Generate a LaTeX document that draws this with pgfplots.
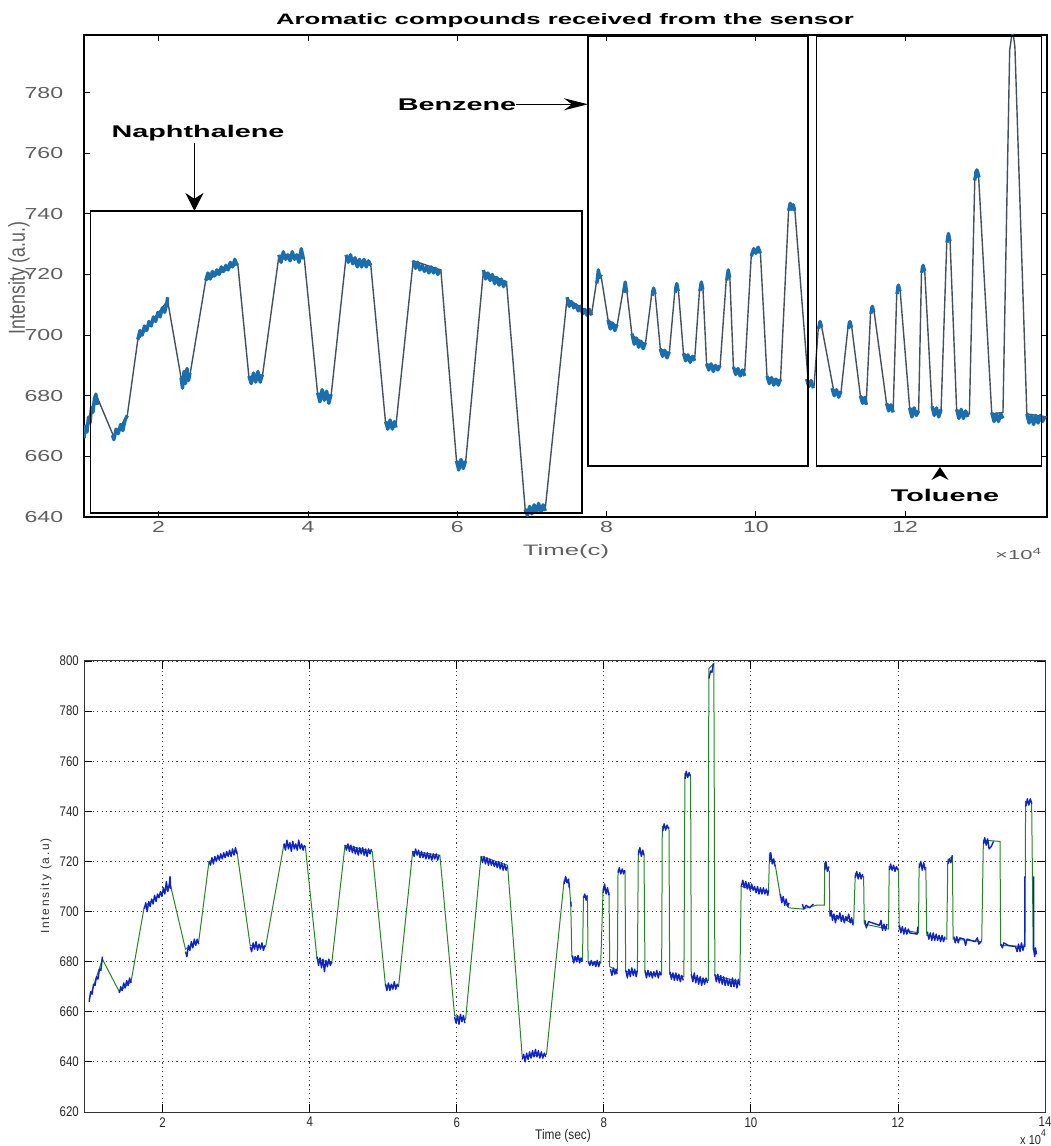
\documentclass[border=0pt]{standalone}
\usepackage{pgfplots}
\pgfplotsset{compat=1.18}
\usetikzlibrary{arrows.meta}
\usepackage{fontspec}
\setmainfont{Liberation Sans}
\definecolor{topblue}{RGB}{25,110,175}
\definecolor{topgray}{RGB}{70,80,90}
\definecolor{botblue}{RGB}{15,35,205}
\definecolor{botgreen}{RGB}{40,130,40}
\definecolor{ticktxt}{RGB}{95,95,95}
\begin{document}
\begin{tikzpicture}
\useasboundingbox (0,0) rectangle (525.5bp,573bp);
% ---------------- top panel ----------------
\begin{axis}[
  at={(42bp,314.5bp)}, anchor=south west,
  width=481.5bp, height=241bp, scale only axis,
  xmin=1, xmax=13.9, ymin=640, ymax=799,
  xtick={2,4,...,12}, ytick={640,660,...,780},
  tick align=inside, major tick length=3bp,
  axis line style={black, line width=0.6bp},
  tick style={black, line width=0.4bp},
  /pgf/number format/assume math mode=true,
  ticklabel style={font=\fontsize{8}{10}\selectfont, text=ticktxt, xscale=1.45, inner sep=0pt},
  xticklabel style={anchor=north, yshift=-2bp},
  yticklabel style={anchor=east, xshift=-7bp},
  unbounded coords=jump,
]
\addplot[color=topgray, line width=0.7bp] coordinates {
(1.00,667) (1.16,680.5) (1.40,666.4) (1.58,673.5) (1.72,698.3) (2.12,711.4) (2.30,686) (2.42,687) (2.63,718) (3.06,723.5) (3.21,686) (3.39,686.5) (3.61,726) (3.95,725.5) (4.13,680.5) (4.31,680) (4.51,725.7) (4.84,723.5) (5.04,671) (5.18,670.5) (5.41,724.5) (5.78,721.5) (5.99,658.5) (6.11,657.5) (6.35,721) (6.66,717.5) (6.91,642.5) (7.18,643) (7.47,712) (7.80,707) (7.88,720) (7.93,719) (8.02,705) (8.14,703) (8.23,716) (8.27,715) (8.34,700) (8.52,697) (8.61,714.5) (8.65,714) (8.72,695.5) (8.84,694) (8.92,716) (8.96,715.5) (9.03,694) (9.18,692) (9.25,716.5) (9.29,716) (9.34,690.5) (9.52,689.5) (9.61,720.5) (9.65,720) (9.70,689) (9.85,687.5) (9.94,727) (10.06,727.5) (10.15,686) (10.33,685) (10.44,742) (10.52,742) (10.70,685) (10.78,683.5) (10.84,703.5) (10.88,703) (11.04,682) (11.14,681) (11.24,704) (11.28,703.5) (11.40,680) (11.48,678.5) (11.54,709) (11.58,708.5) (11.75,677.5) (11.84,676) (11.89,716) (11.93,715.5) (12.06,676) (12.18,674.5) (12.22,722.5) (12.26,722) (12.36,676) (12.48,674.5) (12.56,732.5) (12.60,732) (12.69,675) (12.86,674) (12.935,754) (12.98,754) (13.16,674) (13.31,674.5) (13.40,794) (13.44,801) (13.47,795) (13.63,674) (13.9,673)
};
\addplot[color=topblue, line width=1.7bp, line join=round] coordinates {
(1.00,666) (1.02,670) (1.04,668) (1.06,673) (1.08,671) (1.10,676) (1.12,674.5) (1.14,679) (1.16,680.5) (1.18,677) (nan,nan)
(1.38,667) (1.40,665.5) (1.43,669) (1.46,667.5) (1.49,670.5) (1.52,668.5) (1.55,672) (1.58,673.5) (nan,nan)
(1.72,698.5) (1.75,701.5) (1.78,700) (1.81,703) (1.84,701.5) (1.87,704.5) (1.90,703) (1.93,706) (1.96,704.5) (1.99,707.5) (2.02,706) (2.05,709) (2.08,707.5) (2.11,710.5) (2.12,712.5) (nan,nan)
(2.30,686) (2.32,682.5) (2.34,688) (2.36,684) (2.38,689) (2.40,685) (2.42,687.5) (nan,nan)
(2.63,718) (2.66,720.5) (2.69,718.5) (2.72,721) (2.75,719.5) (2.78,721.5) (2.81,720) (2.84,722.5) (2.87,721) (2.90,723) (2.93,721.5) (2.96,724) (2.99,722.5) (3.02,725) (3.05,723) (nan,nan)
(3.21,686.5) (3.24,684) (3.27,687.5) (3.30,684.5) (3.33,688) (3.36,684.5) (3.39,687) (nan,nan)
(3.61,726.5) (3.64,724) (3.67,727.5) (3.70,725) (3.73,726.5) (3.76,724.5) (3.79,727.5) (3.82,725) (3.85,726.5) (3.88,724) (3.91,728.5) (3.94,725) (nan,nan)
(4.13,681) (4.16,678) (4.19,682) (4.22,678.5) (4.25,681.5) (4.28,677.5) (4.31,680.5) (nan,nan)
(4.51,726.5) (4.54,724) (4.57,726.5) (4.60,723.5) (4.63,725.5) (4.66,722.5) (4.69,725) (4.72,722.5) (4.75,725) (4.78,722.5) (4.81,724.5) (4.84,723) (nan,nan)
(5.04,671.5) (5.07,669) (5.10,672) (5.13,669) (5.16,671.5) (5.18,669.5) (nan,nan)
(5.41,724.5) (5.44,722) (5.47,724) (5.50,721.5) (5.53,723) (5.56,721) (5.59,722.5) (5.62,720.5) (5.65,722.5) (5.68,720.5) (5.71,722) (5.74,720) (5.77,721.5) (nan,nan)
(5.99,658.5) (6.02,655.5) (6.05,659) (6.08,656) (6.11,658.5) (nan,nan)
(6.35,721.5) (6.38,718.5) (6.41,720.5) (6.44,718) (6.47,720) (6.50,717) (6.53,719) (6.56,716.5) (6.59,718.5) (6.62,716) (6.65,718) (nan,nan)
(6.91,642.5) (6.94,640.5) (6.97,643.5) (7.00,641) (7.03,644) (7.06,641.5) (7.09,644.5) (7.12,641.5) (7.15,644) (7.18,642) (nan,nan)
(7.47,712.5) (7.50,709.5) (7.53,711) (7.56,709) (7.59,710) (7.62,708) (7.65,709.5) (7.68,707) (7.71,708.5) (7.74,706.5) (7.77,708.5) (7.80,706.5) (nan,nan)
(7.87,717) (7.89,721.5) (7.91,719) (7.93,720) (nan,nan)
(8.02,705) (8.05,702) (8.08,704) (8.11,701.5) (8.14,703.5) (nan,nan)
(8.23,714) (8.25,717.5) (8.27,714) (nan,nan)
(8.34,700.5) (8.37,697) (8.40,699) (8.43,696) (8.46,698) (8.49,695.5) (8.52,697.5) (nan,nan)
(8.61,713) (8.63,715.5) (8.65,713.5) (nan,nan)
(8.72,695.5) (8.75,693) (8.78,695) (8.81,692.5) (8.84,694.5) (nan,nan)
(8.92,714) (8.94,717) (8.96,714.5) (nan,nan)
(9.03,694) (9.06,691.5) (9.09,693.5) (9.12,691) (9.15,693) (9.18,691.5) (nan,nan)
(9.25,714.5) (9.27,717.5) (9.29,715) (nan,nan)
(9.34,690.5) (9.37,688.5) (9.40,690.5) (9.43,688) (9.46,690) (9.49,688.5) (9.52,690) (nan,nan)
(9.61,718) (9.63,721.5) (9.65,719) (nan,nan)
(9.70,689.5) (9.73,687) (9.76,689) (9.79,686.5) (9.82,688.5) (9.85,686.5) (nan,nan)
(9.94,726) (9.97,728.5) (10.00,727) (10.03,729) (10.06,727) (nan,nan)
(10.15,686.5) (10.18,684) (10.21,686) (10.24,683.5) (10.27,685.5) (10.30,683.5) (10.33,685.5) (nan,nan)
(10.44,741) (10.46,743.5) (10.48,741.5) (10.50,743) (10.52,741) (nan,nan)
(10.68,685.5) (10.71,683) (10.74,685) (10.77,682.5) (nan,nan)
(10.84,702) (10.86,704.5) (10.88,702.5) (nan,nan)
(11.02,682.5) (11.05,680) (11.08,682) (11.11,679.5) (11.14,681.5) (nan,nan)
(11.24,702) (11.26,704.5) (11.28,702.5) (nan,nan)
(11.40,680) (11.43,677.5) (11.46,679.5) (11.48,677) (nan,nan)
(11.54,707) (11.56,709.5) (11.58,707.5) (nan,nan)
(11.75,677.5) (11.78,675) (11.81,677) (11.84,674.5) (nan,nan)
(11.89,713.5) (11.91,716.5) (11.93,714.5) (nan,nan)
(12.06,676) (12.09,673) (12.12,676) (12.15,673.5) (12.18,675) (nan,nan)
(12.22,720.5) (12.24,723) (12.26,721) (nan,nan)
(12.36,676.5) (12.39,673.5) (12.42,676) (12.45,673) (12.48,675.5) (nan,nan)
(12.56,730.5) (12.58,733.5) (12.60,731) (nan,nan)
(12.69,675.5) (12.72,672.5) (12.75,675.5) (12.78,672.5) (12.81,675) (12.84,673) (nan,nan)
(12.93,751) (12.96,754.5) (12.99,752) (nan,nan)
(13.16,674.5) (13.19,671.5) (13.22,674) (13.25,671.5) (13.28,674) (13.31,672.5) (nan,nan)
(13.63,674) (13.66,671) (13.69,673.5) (13.72,670.5) (13.75,673.5) (13.78,671) (13.81,673.5) (13.84,671.5) (13.87,673)
};
\end{axis}
% ---------------- bottom panel ----------------
\begin{axis}[
  at={(42bp,17bp)}, anchor=south west,
  width=480.5bp, height=225.5bp, scale only axis,
  xmin=0.93, xmax=14, ymin=620, ymax=800,
  xtick={2,4,...,14}, ytick={620,640,...,800},
  grid=major, major grid style={black!75, line width=0.4bp, dash pattern=on 0.6bp off 1.6bp},
  tick align=inside, major tick length=4bp,
  axis line style={black!80, line width=0.5bp},
  tick style={black, line width=0.4bp},
  /pgf/number format/assume math mode=true,
  ticklabel style={font=\fontsize{7}{8}\selectfont, text=black!85, xscale=0.82, inner sep=0pt},
  xticklabel style={anchor=north, yshift=-2.5bp},
  yticklabel style={anchor=east, xshift=-3bp},
  unbounded coords=jump,
]
\addplot[color=botgreen, line width=0.5bp] coordinates {
(1.00,665) (1.18,681) (1.41,668) (1.57,672) (1.75,702) (2.11,710) (2.31,685) (2.49,688) (2.63,720) (3.01,724) (3.19,686.5) (3.40,686) (3.65,727) (3.94,726) (4.10,681) (4.30,679.5) (4.48,726.5) (4.85,724) (5.03,670.5) (5.21,670.5) (5.40,724) (5.77,722.5) (5.97,658.5) (6.12,657) (6.33,722) (6.69,718.5) (6.89,642) (7.22,643) (7.46,712.5) (7.53,711) (7.55,703) (7.565,682) (7.71,681) (7.723,706) (7.777,705.5) (7.786,680) (7.958,679.5) (7.99,709) (8.071,707.5) (8.08,678) (8.184,676.5) (8.193,716.5) (8.288,716) (8.297,676) (8.456,676) (8.469,724.5) (8.546,723) (8.56,675.5) (8.786,675) (8.795,734) (8.886,733.5) (8.895,675) (9.089,674) (9.103,755) (9.18,754.5) (9.189,674) (9.42,672.5) (9.428,797) (9.496,799) (9.51,674.5) (9.85,672) (9.868,710) (10.24,708) (10.253,723) (10.334,718) (10.402,706) (10.515,701.5) (10.70,701) (10.90,702.6) (11.00,702.6) (11.004,719) (11.067,716) (11.072,699) (11.397,695.3) (11.42,715.3) (11.533,714) (11.542,695) (11.872,693) (11.881,718) (12.008,717) (12.017,693) (12.279,691.5) (12.288,719) (12.379,717.5) (12.392,690.5) (12.664,689) (12.678,720.6) (12.741,722) (12.75,689) (13.139,688) (13.162,728.5) (13.388,728) (13.397,686.5) (13.727,686) (13.736,744) (13.818,744) (13.84,685) (13.885,683)
};
\addplot[color=botblue, line width=0.7bp, line join=round] coordinates {
(1.00,664) (1.02,668) (1.04,667) (1.06,671) (1.08,670.5) (1.10,674) (1.12,673) (1.14,677) (1.16,676.5) (1.18,682) (nan,nan)
(1.41,667.5) (1.43,670) (1.45,668.5) (1.47,671.5) (1.49,669.5) (1.51,672.5) (1.53,670.5) (1.55,673.5) (1.57,671.5) (nan,nan)
(1.75,701) (1.77,703.5) (1.79,700) (1.81,704) (1.83,702) (1.85,705) (1.87,703) (1.89,706.5) (1.91,704) (1.93,707) (1.95,705.5) (1.97,708) (1.99,706) (2.01,709.5) (2.03,707) (2.05,712) (2.07,708) (2.09,711) (2.10,714) (2.11,709) (nan,nan)
(2.31,684) (2.33,682) (2.35,686.5) (2.37,684.5) (2.39,688) (2.41,685.5) (2.43,689) (2.45,686.5) (2.47,689) (2.49,687) (nan,nan)
(2.63,720) (2.65,718.5) (2.67,721.5) (2.69,719) (2.71,722) (2.73,720) (2.75,722.5) (2.77,720.5) (2.79,723) (2.81,721) (2.83,723.5) (2.85,721.5) (2.87,724) (2.89,722) (2.91,724.5) (2.93,722) (2.95,725) (2.97,722.5) (2.99,725.5) (3.01,723) (nan,nan)
(3.19,686) (3.21,684) (3.23,687.5) (3.25,685) (3.27,688) (3.29,684.5) (3.31,687) (3.33,685) (3.35,687.5) (3.37,684.5) (3.39,686.5) (nan,nan)
(3.65,727) (3.67,724.5) (3.69,728.5) (3.71,725) (3.73,727.5) (3.75,724) (3.77,728) (3.79,725) (3.81,727) (3.83,724.5) (3.85,728.5) (3.87,725) (3.89,727) (3.91,724.5) (3.93,726.5) (nan,nan)
(4.10,682) (4.12,678.5) (4.14,681.5) (4.16,677.5) (4.18,681) (4.20,676) (4.22,680.5) (4.24,678) (4.26,681) (4.28,678.5) (4.30,680) (nan,nan)
(4.48,726.5) (4.50,724.5) (4.52,727) (4.54,724) (4.56,726.5) (4.58,723.5) (4.60,726) (4.62,723) (4.64,725.5) (4.66,722.5) (4.68,725.5) (4.70,723) (4.72,725.5) (4.74,722.5) (4.76,725) (4.78,722) (4.80,725) (4.82,723) (4.84,725) (nan,nan)
(5.03,671) (5.05,668.5) (5.07,671.5) (5.09,668.5) (5.11,671) (5.13,669) (5.15,672) (5.17,669) (5.19,671) (5.21,670) (nan,nan)
(5.40,724) (5.42,722) (5.44,725) (5.46,722.5) (5.48,724.5) (5.50,721.5) (5.52,724) (5.54,721.5) (5.56,723.5) (5.58,721) (5.60,723.5) (5.62,721) (5.64,723) (5.66,720.5) (5.68,723) (5.70,721) (5.72,723) (5.74,720.5) (5.76,722.5) (nan,nan)
(5.97,658) (5.99,655.5) (6.01,658.5) (6.03,655) (6.05,659) (6.07,656) (6.09,658.5) (6.11,655.5) (nan,nan)
(6.33,722) (6.35,719.5) (6.37,722) (6.39,719) (6.41,721.5) (6.43,718.5) (6.45,721) (6.47,718.5) (6.49,720.5) (6.51,718) (6.53,720) (6.55,717.5) (6.57,720) (6.59,717) (6.61,719.5) (6.63,716.5) (6.65,719) (6.67,716.5) (6.69,718) (nan,nan)
(6.89,641) (6.91,643) (6.93,640) (6.95,643.5) (6.97,641) (6.99,644) (7.01,641.5) (7.03,644.5) (7.05,642) (7.07,645) (7.09,642) (7.11,644.5) (7.13,641.5) (7.15,644) (7.17,641.5) (7.19,643.5) (7.21,642) (nan,nan)
(7.46,711) (7.48,714) (7.50,711.5) (7.52,713) (7.53,709.5) (nan,nan)
(7.55,704) (7.555,702) (nan,nan)
(7.57,682.5) (7.59,679.5) (7.61,682) (7.63,680) (7.65,682.5) (7.67,679.5) (7.69,681.5) (7.71,680) (nan,nan)
(7.725,705.5) (7.74,707) (7.76,704.5) (7.775,706.5) (nan,nan)
(7.79,680) (7.81,678.5) (7.83,680.5) (7.85,678.5) (7.87,680) (7.89,678) (7.91,680.5) (7.93,678) (7.95,680) (nan,nan)
(7.99,707.5) (8.01,711) (8.03,707) (8.05,709.5) (8.07,706.5) (nan,nan)
(8.09,677) (8.11,674.5) (8.13,677.5) (8.15,675) (8.17,677) (8.18,675) (nan,nan)
(8.195,715.5) (8.21,717.5) (8.23,715) (8.25,717) (8.27,715) (8.285,716.5) (nan,nan)
(8.30,676.5) (8.32,673.5) (8.34,677) (8.36,674) (8.38,677.5) (8.40,674.5) (8.42,677) (8.44,674) (8.455,676.5) (nan,nan)
(8.47,722.5) (8.49,725.5) (8.51,722) (8.53,724.5) (8.545,722.5) (nan,nan)
(8.56,676.5) (8.58,673.5) (8.60,676.5) (8.62,674) (8.64,676) (8.66,673.5) (8.68,676) (8.70,674) (8.72,676.5) (8.74,673.5) (8.76,676) (8.78,674.5) (nan,nan)
(8.80,732) (8.82,735) (8.84,732.5) (8.86,734.5) (8.88,733) (nan,nan)
(8.90,676) (8.92,673) (8.94,675.5) (8.96,672.5) (8.98,675.5) (9.00,672.5) (9.02,675) (9.04,672) (9.06,674.5) (9.08,672.5) (nan,nan)
(9.105,753) (9.12,756) (9.14,753.5) (9.16,755.5) (9.175,754) (nan,nan)
(9.19,675) (9.21,672) (9.23,675.5) (9.25,671.5) (9.27,674.5) (9.29,671) (9.31,674) (9.33,670.5) (9.35,673.5) (9.37,671) (9.39,673.5) (9.41,671.5) (nan,nan)
(9.43,793) (9.45,796) (9.47,795.5) (9.49,799) (nan,nan)
(9.51,675) (9.53,672) (9.55,675) (9.57,671.5) (9.59,674.5) (9.61,671) (9.63,674) (9.65,670.5) (9.67,673.5) (9.69,670.5) (9.71,673) (9.73,670) (9.75,673.5) (9.77,670) (9.79,673) (9.81,669.5) (9.83,673) (9.85,670.5) (nan,nan)
(9.87,710) (9.89,712.5) (9.91,709.5) (9.93,712) (9.95,709) (9.97,711.5) (9.99,708.5) (10.01,711) (10.03,708.5) (10.05,710) (10.07,707.5) (10.09,710) (10.11,707) (10.13,709.5) (10.15,707) (10.17,709.5) (10.19,707) (10.21,709) (10.23,706.5) (10.24,708.5) (nan,nan)
(10.255,720) (10.27,723.5) (10.29,719) (10.31,721) (10.33,718) (nan,nan)
(10.40,707) (10.42,703.5) (10.44,706) (10.46,702.5) (10.48,705) (10.50,702) (10.52,703.5) (nan,nan)
(10.70,703) (10.72,701) (10.75,702.5) (10.80,701.5) (10.85,703) (nan,nan)
(11.005,716.5) (11.02,720) (11.04,716) (11.06,718) (nan,nan)
(11.075,698) (11.09,700.5) (11.11,696.5) (11.13,699) (11.15,695.5) (11.17,698.5) (11.19,697) (11.21,699.5) (11.23,696) (11.25,698.5) (11.27,695.5) (11.29,698) (11.31,696.5) (11.33,699) (11.35,695.5) (11.37,697.5) (11.39,694.5) (nan,nan)
(11.42,713.5) (11.44,716) (11.46,713) (11.48,715.5) (11.50,713) (11.52,715) (nan,nan)
(11.55,696.5) (11.57,693.5) (11.60,696) (11.70,695) (11.75,694.5) (11.77,696.5) (11.79,692.5) (11.81,695) (11.83,692.5) (11.85,695) (nan,nan)
(11.885,716.5) (11.90,719) (11.92,716.5) (11.94,718.5) (11.96,716) (11.98,718) (12.00,716.5) (nan,nan)
(12.02,694.5) (12.04,691.5) (12.06,694) (12.08,691) (12.10,693.5) (12.12,691) (12.14,693) (12.16,691.5) (12.26,691) (12.27,694) (nan,nan)
(12.29,717.5) (12.31,720) (12.33,716.5) (12.35,719.5) (12.37,716.5) (nan,nan)
(12.40,692) (12.42,689) (12.44,691.5) (12.46,688.5) (12.48,691.5) (12.50,688.5) (12.52,691) (12.54,688.5) (12.56,690.5) (12.58,688) (12.60,690.5) (12.62,688) (12.64,690) (nan,nan)
(12.68,719) (12.70,721) (12.72,719.5) (12.74,722.5) (nan,nan)
(12.76,690) (12.78,687.5) (12.80,690) (12.82,687.5) (12.84,689.5) (12.90,689) (12.92,686.5) (12.94,689) (13.05,688) (13.08,689.5) (13.10,687) (13.13,688) (nan,nan)
(13.165,727) (13.18,729.5) (13.20,726.5) (13.22,729) (13.24,725) (13.27,726) (13.30,728) (nan,nan)
(13.40,687) (13.42,685.5) (13.44,687.5) (13.50,686.5) (13.60,686) (13.62,684) (13.64,687) (13.66,684) (13.68,687.5) (13.70,684.5) (13.72,687) (nan,nan)
(13.725,686) (13.725,714) (nan,nan)
(13.74,742) (13.76,745) (13.78,742.5) (13.80,745) (13.82,743) (nan,nan)
(13.845,714) (13.845,685) (13.86,682) (13.87,685.5) (13.885,683)
};
\end{axis}
% ---------------- annotations (pixel coordinates) ----------------
\begin{scope}[shift={(0bp,573bp)}, x=0.5bp, y=-0.5bp]
  \node[font=\fontsize{7.6}{9}\selectfont\bfseries, xscale=1.7] at (565,21) {Aromatic compounds received from the sensor};
  \node[font=\fontsize{8.9}{10}\selectfont, text=ticktxt, rotate=90, yscale=1.3] at (19,278) {Intensity (a.u.)};
  \node[font=\fontsize{7.6}{9}\selectfont, text=ticktxt, xscale=1.7] at (566,552) {Time(c)};
  \node[font=\fontsize{6.5}{8}\selectfont, text=ticktxt, xscale=1.7] at (1019,554) {×10\textsuperscript{4}};
  % boxes
  \draw[line width=0.9bp] (90.6,210.7) rectangle (581.8,512.8);
  \draw[line width=0.9bp] (588.4,36) rectangle (808,465.8);
  \draw[line width=0.9bp] (816.5,36) rectangle (1041.5,465.8);
  % labels and arrows
  \node[font=\fontsize{8.5}{10}\selectfont\bfseries, xscale=1.7] at (198,133) {Naphthalene};
  \draw[line width=0.6bp, -{Stealth[length=9bp,width=9bp]}] (194.4,143) -- (194.4,211);
  \node[font=\fontsize{8.5}{10}\selectfont\bfseries, xscale=1.7] at (457,105) {Benzene};
  \draw[line width=0.6bp, -{Stealth[length=12bp,width=6bp]}] (516,104.3) -- (588,104.3);
  \node[font=\fontsize{8.5}{10}\selectfont\bfseries, xscale=1.7] at (945,495) {Toluene};
  \fill (940,467) -- (948.5,480) -- (940,475.5) -- (931.5,480) -- cycle;
  % bottom panel labels
  \node[font=\fontsize{6}{7}\selectfont\addfontfeatures{LetterSpace=15}, text=black!80, rotate=90] at (46,886) {Intensity (a.u)};
  \node[font=\fontsize{7}{8}\selectfont, text=black!85, xscale=0.85] at (563,1136) {Time (sec)};
  \node[font=\fontsize{6.5}{8}\selectfont, text=black!85, xscale=0.85, inner sep=0.5bp] at (1033,1137) {x 10\raisebox{1.1ex}{\fontsize{5}{6}\selectfont 4}};
\end{scope}
\end{tikzpicture}
\end{document}
